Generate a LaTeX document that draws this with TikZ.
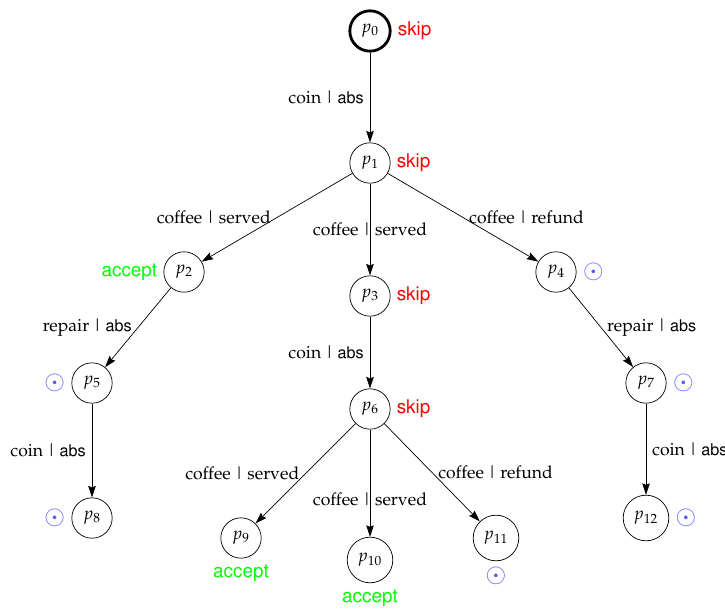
\documentclass[tikz,border=0pt]{standalone}
\usepackage[T1]{fontenc}
\usepackage{mathpazo}
\usepackage[scaled=0.92]{helvet}
\usepackage{amsmath}
\usepackage{tikz}
\usetikzlibrary{arrows.meta, positioning}

\definecolor{obsblue}{RGB}{90,90,255}
\newcommand{\tagfont}{\fontsize{11.7}{14}\selectfont\sffamily}
\newcommand{\skiptag}{\textcolor{red}{\tagfont skip}}
\newcommand{\accepttag}{\textcolor{green}{\tagfont accept}}
\newcommand{\obstag}{\textcolor{obsblue}{\scalebox{1.45}{$\odot$}}}
\newcommand{\io}[2]{#1\,\textbar\,#2}

\begin{document}
\begin{tikzpicture}[>={Stealth[length=2.3mm, width=1.5mm, inset=0.3mm]},
    proc/.style={draw, circle, minimum size=0.8cm, inner sep=3.7pt}]
    \useasboundingbox (0,0) rectangle (14.5,12.2);

    % States of the tree
    \node[proc, ultra thick, label={right:\skiptag}] (p0) at (7.40,11.58) {$p_0$};
    \node[proc, label={right:\skiptag}] (p1) at (7.40,8.94) {$p_1$};
    \node[proc, label={left:\accepttag}] (p2) at (3.68,6.76) {$p_2$};
    \node[proc, label={right:\skiptag}] (p3) at (7.40,6.28) {$p_3$};
    \node[proc, label={right:\obstag}] (p4) at (11.12,6.76) {$p_4$};
    \node[proc, label={left:\obstag}] (p5) at (1.84,4.54) {$p_5$};
    \node[proc, label={right:\skiptag}] (p6) at (7.40,4.02) {$p_6$};
    \node[proc, label={right:\obstag}] (p7) at (12.92,4.54) {$p_7$};
    \node[proc, label={left:\obstag}] (p8) at (1.84,1.84) {$p_8$};
    \node[proc, label={below:\accepttag}] (p9) at (4.82,1.44) {$p_9$};
    \node[proc, label={below:\accepttag}] (p10) at (7.40,1.00) {$p_{10}$};
    \node[proc, label={below:\obstag}] (p11) at (9.92,1.44) {$p_{11}$};
    \node[proc, label={right:\obstag}] (p12) at (12.92,1.84) {$p_{12}$};

    % Transitions
    \draw[->] (p0) -- node[left] {\io{coin}{\textsf{abs}}} (p1);
    \draw[->] (p1) -- node[left] {\io{coffee}{served}} (p2);
    \draw[->] (p1) -- node {\io{coffee}{served}} (p3);
    \draw[->] (p1) -- node[right] {\io{coffee}{refund}} (p4);
    \draw[->] (p2) -- node[left] {\io{repair}{\textsf{abs}}} (p5);
    \draw[->] (p3) -- node[left] {\io{coin}{\textsf{abs}}} (p6);
    \draw[->] (p4) -- node[right] {\io{repair}{\textsf{abs}}} (p7);
    \draw[->] (p5) -- node[left] {\io{coin}{\textsf{abs}}} (p8);
    \draw[->] (p6) -- node[left] {\io{coffee}{served}} (p9);
    \draw[->] (p6) -- node[pos=0.65] {\io{coffee}{served}} (p10);
    \draw[->] (p6) -- node[right] {\io{coffee}{refund}} (p11);
    \draw[->] (p7) -- node[right] {\io{coin}{\textsf{abs}}} (p12);
\end{tikzpicture}
\end{document}
